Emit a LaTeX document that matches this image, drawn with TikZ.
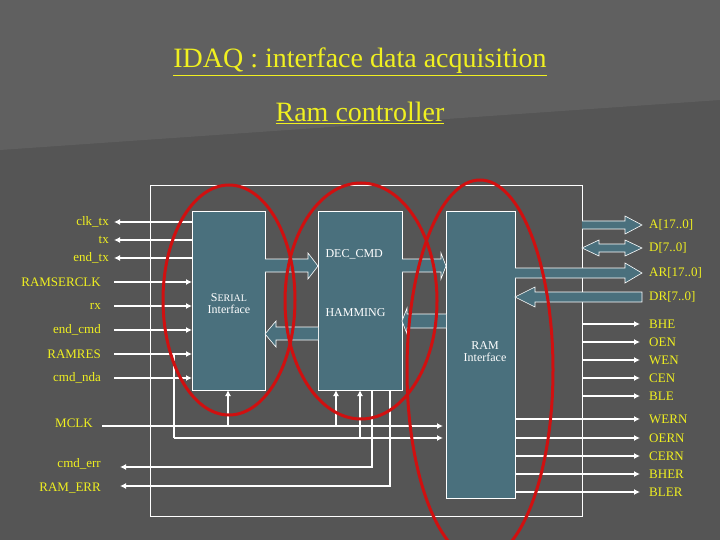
\documentclass[tikz,border=0pt]{standalone}
\usepackage{fontspec}
\setmainfont{Liberation Serif}
\usetikzlibrary{arrows.meta,shapes.arrows,shapes.geometric}
\definecolor{bgdark}{HTML}{555555}
\definecolor{bglight}{HTML}{606060}
\definecolor{blockteal}{HTML}{4A707D}
\definecolor{lbl}{HTML}{F0F020}
\definecolor{ringred}{HTML}{D01010}
\tikzset{
  block/.style   = {draw=white, fill=blockteal, inner sep=0pt},
  sig/.style     = {draw=white, line width=1.4pt, -{Latex[length=6pt,width=6pt]}},
  wire/.style    = {draw=white, line width=1.4pt},
  lbl/.style     = {text=lbl, font=\fontsize{13}{14}\selectfont, inner sep=1pt},
  btxt/.style    = {text=white, font=\fontsize{12}{13}\selectfont, align=center},
  bus/.style     = {draw=white, fill=blockteal, line width=0.6pt},
  ring/.style    = {draw=ringred, line width=3pt, ellipse},
}
\begin{document}
\begin{tikzpicture}[x=1pt,y=-1pt]
    \useasboundingbox (0,0) rectangle (720,540);
    % background
    \fill[bgdark] (0,0) rectangle (720,540);
    \fill[bglight] (0,0) -- (720,0) -- (720,100) -- (0,150) -- cycle;
    % titles
    \node[text=lbl, font=\fontsize{28}{30}\selectfont] (title) at (360,62) {\underline{IDAQ : interface data acquisition}};
    \node[text=lbl, font=\fontsize{28}{30}\selectfont] (sub) at (360,113) {\underline{Ram controller}};
    % outer frame
    \draw[white, line width=1pt] (150,186) rectangle (582,516);
    % blocks
    \node[block, minimum width=73pt, minimum height=179pt] (ser) at (228.5,300.5) {};
    \node[block, minimum width=84pt, minimum height=179pt] (ham) at (360,300.5) {};
    \node[block, minimum width=69pt, minimum height=287pt] (ram) at (480.5,354.5) {};
    \node[btxt] (sertxt) at (229,304) {S{\fontsize{10}{11}\selectfont ERIAL}\\[-1pt]Interface};
    \node[btxt, anchor=west] (dec) at (322,254) {DEC\_CMD};
    \node[btxt, anchor=west] (hmm) at (322,313) {HAMMING};
    \node[btxt] (ramtxt) at (485,352) {RAM\\[-1pt]Interface};
    % wide buses between blocks
    \draw[bus] (265,259) -- (308,259) -- (308,253) -- (318,266) -- (308,279) -- (308,272) -- (265,272) ;
    \draw[bus] (318,327) -- (276,327) -- (276,321) -- (265,334) -- (276,347) -- (276,340) -- (318,340);
    \draw[bus] (402,259) -- (441,259) -- (441,253) -- (446,266) -- (441,279) -- (441,272) -- (402,272);
    \draw[bus] (446,314) -- (407,314) -- (407,308) -- (402,321) -- (407,334) -- (407,328) -- (446,328);
    % right buses
    \draw[bus] (582,221) -- (625,221) -- (625,216) -- (642,225) -- (625,234) -- (625,229) -- (582,229);
    \draw[bus] (599,244) -- (625,244) -- (625,240) -- (642,248) -- (625,256) -- (625,252) -- (599,252) -- (599,256) -- (582,248) -- (599,240) -- cycle;
    \draw[bus] (515,268) -- (625,268) -- (625,263) -- (642,273) -- (625,283) -- (625,278) -- (515,278);
    \draw[bus] (642,292) -- (535,292) -- (535,287) -- (515,297) -- (535,307) -- (535,302) -- (642,302) -- cycle;
    % left outputs
    \foreach \y/\t/\n in {222/clk\_tx/a, 240/tx/b, 258/end\_tx/c} {
        \coordinate (o\n) at (192,\y);
        \coordinate (e\n) at (114,\y);
        \draw[sig] (o\n) -- (e\n);
        \node[lbl, anchor=east] (l\n) at (110,\y) {\t};
    }
    % left inputs
    \foreach \y/\t/\n in {282/RAMSERCLK/a, 306/rx/b, 330/end\_cmd/c, 354/RAMRES/d, 378/cmd\_nda/e} {
        \coordinate (s\n) at (114,\y);
        \coordinate (i\n) at (192,\y);
        \draw[sig] (s\n) -- (i\n);
        \node[lbl, anchor=east] (m\n) at (102,\y) {\t};
    }
    % clock and reset distribution
    \node[lbl, anchor=east] (mclk) at (94,423) {MCLK};
    \coordinate (clk0) at (102,426);
    \coordinate (clk1) at (443,426);
    \draw[sig] (clk0) -- (clk1);
    \coordinate (rs0) at (174,354);
    \coordinate (rs1) at (174,438);
    \coordinate (rs2) at (443,438);
    \draw[wire] (rs0) -- (rs1);
    \draw[sig] (rs1) -- (rs2);
    \foreach \x/\y in {228/426, 336/426, 360/438} {
        \draw[sig] (\x,\y) -- (\x,390);
    }
    % error outputs
    \node[lbl, anchor=east] (err1) at (102,464) {cmd\_err};
    \node[lbl, anchor=east] (err2) at (102,488) {RAM\_ERR};
    \coordinate (ea) at (372,390);
    \coordinate (eb) at (390,390);
    \draw[sig] (ea) -- (372,467) -- (120,467);
    \draw[sig] (eb) -- (390,486) -- (120,486);
    % right labels
    \foreach \y/\t in {225/A[17..0], 248/D[7..0], 273/AR[17..0], 297/DR[7..0]} {
        \node[lbl, anchor=west] at (648,\y) {\t};
    }
    \foreach \y/\t in {324/BHE, 342/OEN, 360/WEN, 378/CEN, 396/BLE} {
        \draw[sig] (582,\y) -- (640,\y);
        \node[lbl, anchor=west] at (648,\y) {\t};
    }
    \foreach \y/\t in {419/WERN, 438/OERN, 456/CERN, 474/BHER, 492/BLER} {
        \draw[sig] (515,\y) -- (640,\y);
        \node[lbl, anchor=west] at (648,\y) {\t};
    }
    % red rings
    \node[ring, minimum width=132pt, minimum height=230pt] (r1) at (229,300) {};
    \node[ring, minimum width=152pt, minimum height=236pt] (r2) at (361,301) {};
    \node[ring, minimum width=146pt, minimum height=380pt] (r3) at (480,370) {};
\end{tikzpicture}
\end{document}
